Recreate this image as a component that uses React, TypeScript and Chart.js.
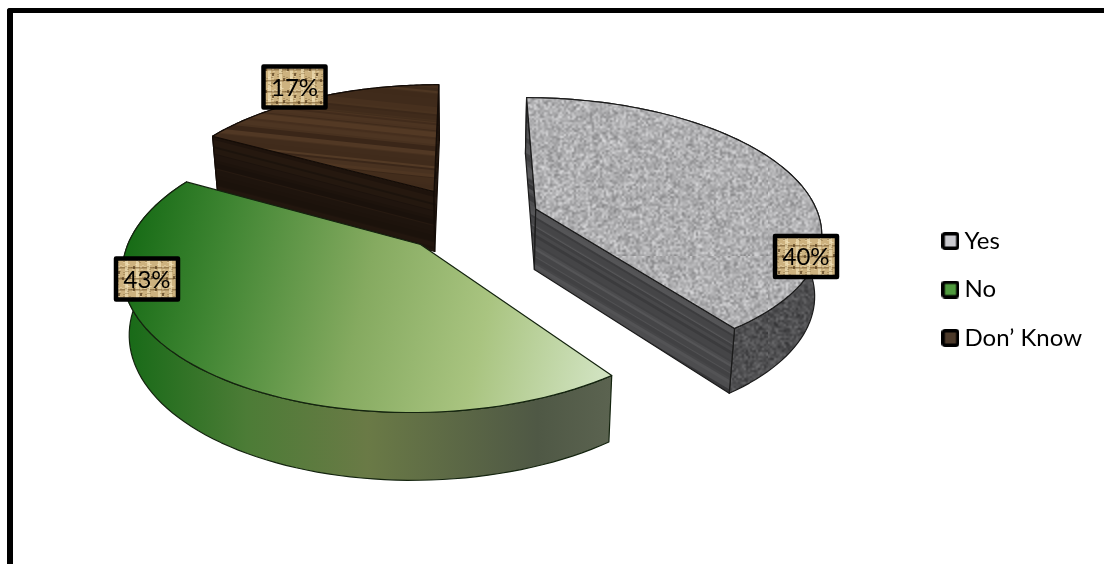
import React, { useEffect, useRef } from "react";
import { Chart, registerables } from "chart.js";

Chart.register(...registerables);

const categories = ["Yes", "No", "Don\u2019 Know"];
const shares = [40, 43, 17];
const swatchColors = ["#c9c9ce", "#4f9a3e", "#4c3a2a"];

// Camera model: the pie lies on a plane seen in perspective, and every rim point goes through view().
const VIEW = { cx: 469, cy: 219, rx: 284, ry: 132, fore: 0.16, explode: 0.25, depth: 61, taper: 0.98 };
// Where each percentage tag sits, in the same order as the categories.
const TAG_CENTERS = [[806, 256.5], [147, 279], [294.5, 87]];

type Pt = { x: number; y: number };

function lcg(seed: number) {
  let s = seed >>> 0;
  return () => {
    s = (Math.imul(s, 1664525) + 1013904223) >>> 0;
    return s / 4294967296;
  };
}

function tile(w: number, h: number) {
  const c = document.createElement("canvas");
  c.width = w;
  c.height = h;
  return c;
}

// Mottled stone: coarse noise upscaled with smoothing.
function stone(seed: number, lo: number, hi: number, cell: number) {
  const n = 128;
  const small = tile(n, n);
  const sctx = small.getContext("2d")!;
  const r = lcg(seed);
  for (let y = 0; y < n; y++) {
    for (let x = 0; x < n; x++) {
      const t = (r() + r()) / 2;
      const v = Math.round(lo + (hi - lo) * t);
      sctx.fillStyle = `rgb(${v},${v},${v + 2})`;
      sctx.fillRect(x, y, 1, 1);
    }
  }
  const big = tile(n * cell, n * cell);
  const bctx = big.getContext("2d")!;
  bctx.imageSmoothingEnabled = true;
  bctx.imageSmoothingQuality = "high";
  bctx.drawImage(small, 0, 0, n * cell, n * cell);
  return big;
}

// Grain bands running along the x axis, used for wood and brushed sides.
function grain(seed: number, a: number[], b: number[]) {
  const c = tile(32, 160);
  const g = c.getContext("2d")!;
  const r = lcg(seed);
  let y = 0;
  while (y < 160) {
    const band = 1 + Math.floor(r() * 5);
    const t = r();
    g.fillStyle = `rgb(${a.map((v, i) => Math.round(v + (b[i] - v) * t)).join(",")})`;
    g.fillRect(0, y, 32, band);
    y += band;
  }
  return c;
}

// Woven sacking behind the percentage tags.
function sacking() {
  const c = tile(22, 22);
  const g = c.getContext("2d")!;
  g.fillStyle = "#cdb27f";
  g.fillRect(0, 0, 22, 22);
  const r = lcg(11);
  g.filter = "blur(0.7px)";
  for (let i = 0; i < 2; i++) {
    g.fillStyle = "rgba(240,222,180,0.7)";
    g.fillRect(4 + i * 11, 0, 3, 22);
    g.fillStyle = "rgba(110,80,40,0.55)";
    g.fillRect(0, 3 + i * 11, 22, 1.5);
    g.fillStyle = "rgba(85,60,28,0.7)";
    g.fillRect(1 + i * 11, 2 + i * 11, 2, 3);
    g.fillRect(8 + i * 11, 7 + i * 5, 2, 3);
  }
  for (let i = 0; i < 40; i++) {
    g.fillStyle = r() > 0.5 ? "rgba(255,245,215,0.3)" : "rgba(100,75,35,0.3)";
    g.fillRect(Math.floor(r() * 22), Math.floor(r() * 22), 2, 1);
  }
  return c;
}

function view(u: number, v: number): Pt & { w: number } {
  const w = 1 - VIEW.fore * v;
  return { x: VIEW.cx + (VIEW.rx * u) / w, y: VIEW.cy + (VIEW.ry * v) / w, w };
}

function lower(p: Pt & { w: number }): Pt {
  return {
    x: VIEW.cx + (p.x - VIEW.cx) * VIEW.taper,
    y: p.y + VIEW.depth / Math.sqrt(p.w),
  };
}

function trace(ctx: CanvasRenderingContext2D, pts: Pt[]) {
  ctx.beginPath();
  pts.forEach((p, i) => (i ? ctx.lineTo(p.x, p.y) : ctx.moveTo(p.x, p.y)));
  ctx.closePath();
}

function face(ctx: CanvasRenderingContext2D, pts: Pt[], fill: any, edge: string) {
  trace(ctx, pts);
  ctx.fillStyle = fill;
  ctx.fill();
  ctx.strokeStyle = edge;
  ctx.lineWidth = 1.2;
  ctx.lineJoin = "round";
  ctx.stroke();
}

function tilted(ctx: CanvasRenderingContext2D, src: HTMLCanvasElement, deg: number) {
  const p = ctx.createPattern(src, "repeat")!;
  p.setTransform(new DOMMatrix().rotate(deg));
  return p;
}

function linear(ctx: CanvasRenderingContext2D, x0: number, y0: number, x1: number, y1: number, stops: [number, string][]) {
  const g = ctx.createLinearGradient(x0, y0, x1, y1);
  stops.forEach(([o, c]) => g.addColorStop(o, c));
  return g;
}

function sliceFills(ctx: CanvasRenderingContext2D) {
  const granite = stone(7, 128, 222, 2);
  const darkStone = stone(23, 48, 112, 2);
  return [
    {
      top: ctx.createPattern(granite, "repeat"),
      rim: ctx.createPattern(darkStone, "repeat"),
      side: tilted(ctx, grain(3, [54, 54, 56], [90, 90, 92]), 30.8),
      edge: "#1b1b1b",
    },
    {
      top: linear(ctx, 125, 225, 610, 330, [
        [0, "#146a14"],
        [0.2, "#3f8532"],
        [0.5, "#85aa60"],
        [0.75, "#a9c480"],
        [1, "#d0e2bf"],
      ]),
      rim: linear(ctx, 125, 0, 610, 0, [
        [0, "#176a17"],
        [0.25, "#4c7c36"],
        [0.5, "#6a7a46"],
        [0.85, "#4f5845"],
        [1, "#5b6350"],
      ]),
      side: "#5b6350",
      edge: "#14240f",
    },
    {
      top: tilted(ctx, grain(5, [56, 37, 23], [84, 58, 37]), 6),
      rim: tilted(ctx, grain(9, [26, 17, 11], [38, 25, 16]), 14.5),
      side: tilted(ctx, grain(9, [26, 17, 11], [38, 25, 16]), 14.5),
      edge: "#140c07",
    },
  ];
}

const cachedFills = new WeakMap<object, any[]>();

// Draws the three exploded slabs from the arc angles Chart.js computed, farthest first.
const tiltedPie = {
  id: "tiltedPie",
  beforeDatasetsDraw(chart: any) {
    const ctx: CanvasRenderingContext2D = chart.ctx;
    if (!cachedFills.has(chart)) cachedFills.set(chart, sliceFills(ctx));
    const fills = cachedFills.get(chart)!;
    const arcs = chart.getDatasetMeta(0).data;
    ctx.save();
    [2, 0, 1].forEach((i) => {
      const arc = arcs[i];
      const a0 = arc.startAngle + Math.PI / 2;
      const a1 = arc.endAngle + Math.PI / 2;
      const mid = (a0 + a1) / 2;
      const ou = VIEW.explode * Math.sin(mid);
      const ov = -VIEW.explode * Math.cos(mid);
      const apex = view(ou, ov);
      const rim: (Pt & { w: number })[] = [];
      for (let s = 0; s <= 80; s++) {
        const a = a0 + ((a1 - a0) * s) / 80;
        rim.push(view(ou + Math.sin(a), ov - Math.cos(a)));
      }
      const f = fills[i];
      const inner = rim[40];
      const facesViewer = (end: Pt) => {
        const dx = end.x - apex.x;
        const dy = end.y - apex.y;
        const side = dx * (inner.y - apex.y) - dy * (inner.x - apex.x);
        return side * dx < 0;
      };
      face(ctx, [...rim, ...rim.map(lower).reverse()], f.rim, f.edge);
      [rim[0], rim[80]].forEach((end: any) => {
        if (facesViewer(end)) {
          face(ctx, [apex, end, lower(end), lower(apex)], f.side, f.edge);
        }
      });
      face(ctx, [apex, ...rim], f.top, f.edge);
    });
    ctx.restore();
    return false;
  },
  afterDraw(chart: any) {
    const ctx: CanvasRenderingContext2D = chart.ctx;
    const total = shares.reduce((a, b) => a + b, 0);
    const weave = ctx.createPattern(sacking(), "repeat")!;
    ctx.save();
    shares.forEach((value, i) => {
      const [x, y] = TAG_CENTERS[i];
      ctx.fillStyle = weave;
      ctx.fillRect(x - 31, y - 20.5, 62, 41);
      ctx.strokeStyle = "#000";
      ctx.lineWidth = 4.5;
      ctx.lineJoin = "round";
      ctx.strokeRect(x - 31, y - 20.5, 62, 41);
      ctx.fillStyle = "#000";
      ctx.font = "24px Lato";
      ctx.textAlign = "center";
      ctx.textBaseline = "middle";
      ctx.fillText(`${Math.round((value / total) * 100)}%`, x, y + 1);
    });
    ctx.restore();
  },
};

function swatch(color: string) {
  const c = tile(18, 18);
  const g = c.getContext("2d")!;
  g.fillStyle = color;
  g.beginPath();
  g.roundRect(1.7, 1.7, 14.6, 14.6, 2);
  g.fill();
  g.lineWidth = 3.4;
  g.strokeStyle = "#000";
  g.stroke();
  return c;
}

export default function App() {
  const ref = useRef<HTMLCanvasElement>(null);

  useEffect(() => {
    const chart = new Chart(ref.current!, {
      type: "pie",
      data: {
        labels: categories,
        datasets: [{ data: shares, backgroundColor: swatchColors }],
      },
      plugins: [tiltedPie],
      options: {
        responsive: false,
        animation: false,
        layout: { padding: { top: 15, right: 12, bottom: 0, left: 0 } },
        plugins: {
          tooltip: { enabled: false },
          legend: {
            position: "right",
            align: "center",
            labels: {
              usePointStyle: true,
              pointStyleWidth: 4,
              boxHeight: 24,
              padding: 24.5,
              color: "#000",
              font: { family: "Lato", size: 24 },
              generateLabels: () =>
                categories.map((text, i) => ({
                  text,
                  pointStyle: swatch(swatchColors[i]),
                  fillStyle: swatchColors[i],
                  hidden: false,
                  index: i,
                })),
            },
          },
        },
      },
    } as any);
    return () => chart.destroy();
  }, []);

  return (
    <div style={{ position: "fixed", left: 0, top: 0, width: 1104, height: 564, background: "#fff" }}>
      <canvas ref={ref} width={1104} height={564} style={{ display: "block" }} />
      <div
        style={{
          position: "absolute",
          left: 7,
          top: 8,
          right: 0,
          bottom: 0,
          borderTop: "5.5px solid #000",
          borderLeft: "6px solid #000",
          borderTopLeftRadius: 3,
        }}
      />
    </div>
  );
}
